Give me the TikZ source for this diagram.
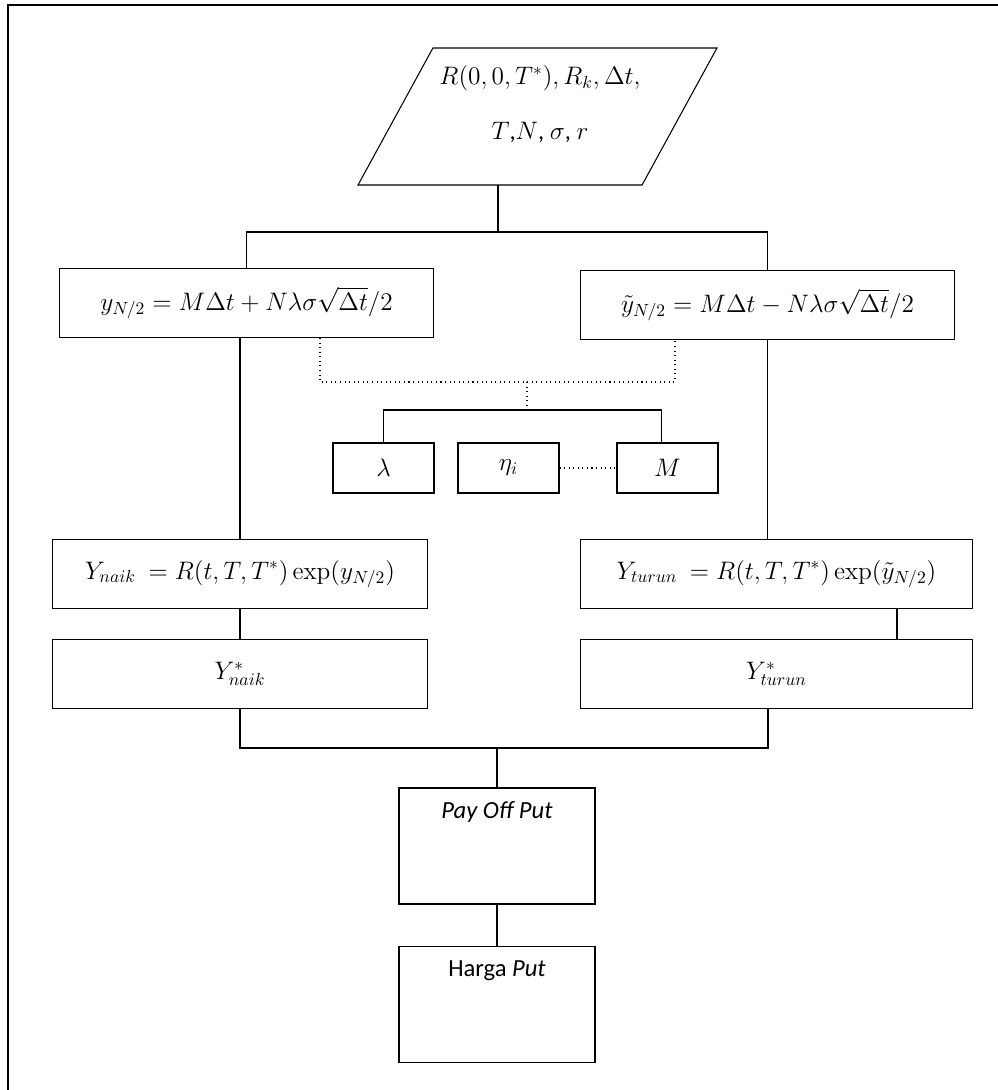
\documentclass[tikz,border=0pt]{standalone}
\usepackage[no-math]{fontspec}
\setmainfont{Carlito}
\usetikzlibrary{positioning,shapes.geometric}

\begin{document}
\begin{tikzpicture}[
    x=0.02cm, y=-0.02cm,
    every node/.style={font=\fontsize{14}{17}\selectfont},
    inputbox/.style={draw, line width=0.6pt, trapezium, trapezium left angle=70.3, trapezium right angle=109.7,
        trapezium stretches=true, minimum width=7.18cm, minimum height=2.74cm},
    wide/.style={draw, line width=0.6pt, rectangle, minimum height=1.38cm},
    small/.style={draw, line width=0.6pt, rectangle, minimum width=2.02cm, minimum height=1.0cm},
    tall/.style={draw, line width=0.6pt, rectangle, minimum width=3.92cm, inner ysep=0.1cm,
        text height=0.5cm, text depth=1.62cm},
    link/.style={draw, line width=0.6pt},
    dots/.style={draw, dotted, line width=0.6pt}
]
\useasboundingbox (0,0) rectangle (998,1090);

% Frame
\draw[line width=0.9pt] (8,1090) -- (8,5) -- (998,5);

% Input
\node[inputbox] (input) at (537.5,116.5) {};
\node[align=center] (inputtext) at (540,104) {$R(0,0,T^{*}), R_k, \Delta t,$\\[14pt] $T$,$N$, $\sigma$, $r$};
\coordinate (inbot) at (498,185);
\coordinate (split) at (498,232);

% Upper formulas
\node[wide, minimum width=7.5cm] (yup) at (246.5,303) {$y_{N/2} = M\Delta t + N\lambda\sigma\sqrt{\Delta t}/2$};
\node[wide, minimum width=7.5cm] (ydown) at (767.5,305) {$\tilde{y}_{N/2} = M\Delta t - N\lambda\sigma\sqrt{\Delta t}/2$};

% Parameters
\node[small] (lam) at (383.5,468) {$\lambda$};
\node[small] (eta) at (508.5,468) {$\eta_i$};
\node[small] (mpar) at (667.5,468) {$M$};
\coordinate (dl) at (320,382);
\coordinate (dr) at (675,382);
\coordinate (dm) at (527,382);
\coordinate (hub) at (527,410);

% Prices
\node[wide, minimum width=7.52cm] (naik) at (240,574) {$Y_{naik}\ = R(t,T,T^{*})\exp\bigl(y_{N/2}\bigr)$};
\node[wide, minimum width=7.52cm] (naikstar) at (240,674) {$Y^{*}_{naik}$};
\node[wide, minimum width=7.86cm] (turun) at (776.5,574) {$Y_{turun}\ = R(t,T,T^{*})\exp\bigl(\tilde{y}_{N/2}\bigr)$};
\node[wide, minimum width=7.86cm] (turunstar) at (776.5,674) {$Y^{*}_{turun}$};
\coordinate (merge) at (497,748);

% Output
\node[tall] (payoff) at (497,846) {\textit{Pay Off Put}};
\node[tall] (harga) at (497,1004.5) {Harga \textit{Put}};

% Connections
\draw[link] (inbot) -- (split);
\draw[link] (yup.north) |- (split) -| (ydown.north);
\draw[dots] (yup.south -| dl) -- (dl) -- (dr) -- (ydown.south -| dr);
\draw[dots] (dm) -- (hub);
\draw[link] (lam.north) |- (hub) -| ([xshift=-0.12cm]mpar.north);
\draw[dots] (eta) -- (mpar);
\draw[link] (naik.north |- yup.south) -- (naik.north);
\draw[link] (ydown.south) -- (ydown.south |- turun.north);
\draw[link] (naik) -- (naikstar);
\draw[link] ([xshift=2.41cm]turun.south) -- ([xshift=2.41cm]turunstar.north);
\draw[link] (naikstar.south) |- (merge) -| ([xshift=-0.17cm]turunstar.south);
\draw[link] (merge) -- (payoff.north);
\draw[link] (payoff) -- (harga);

\end{tikzpicture}
\end{document}
